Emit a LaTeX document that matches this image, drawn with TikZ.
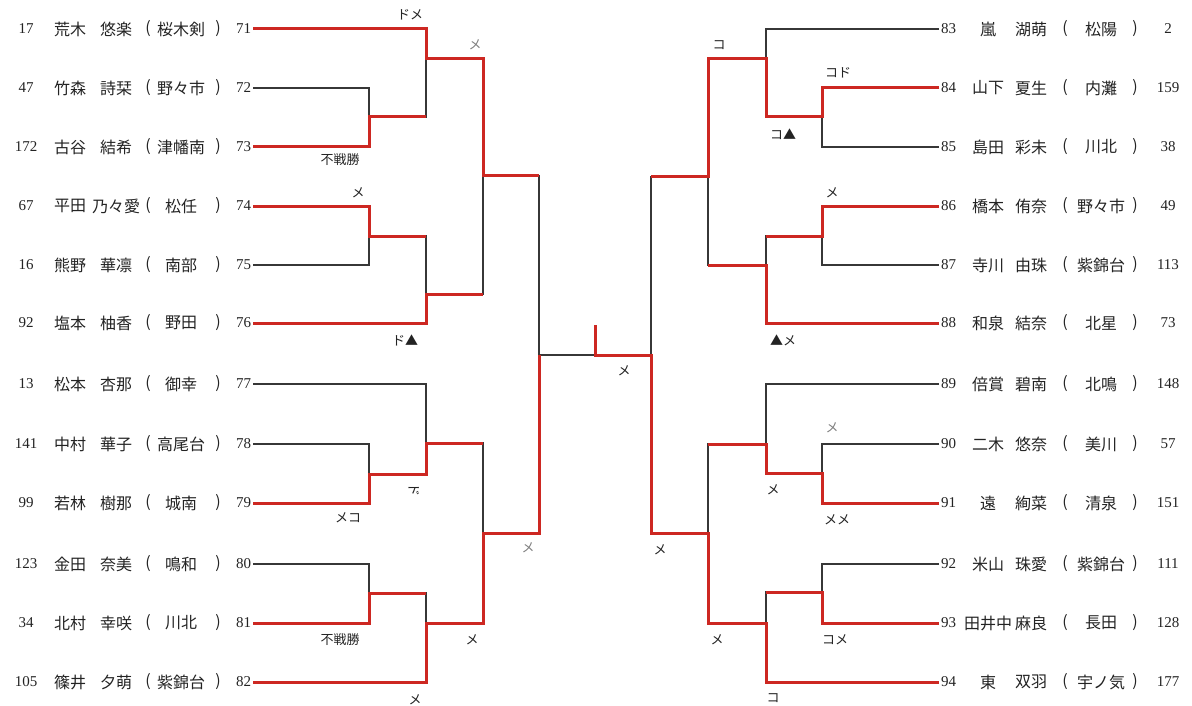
\documentclass[tikz,border=0pt]{standalone}
\usepackage{fontspec}
\setmainfont{Liberation Serif}
\newfontfamily\jp{Noto Sans CJK JP}
\usepackage{xcolor}
\usepackage{tikz}
\definecolor{figred}{RGB}{205,40,34}
\definecolor{figline}{RGB}{55,55,55}
\definecolor{figtext}{RGB}{35,35,35}
\tikzstyle{win} = [line width=3pt, draw=figred]
\tikzstyle{lose} = [line width=1.2pt, draw=figline]
\tikzstyle{entry} = [inner sep=0pt, text=figtext, font=\jp\fontsize{16}{16}\selectfont]
\tikzstyle{seednum} = [inner sep=0pt, text=figtext, font=\fontsize{15}{15}\selectfont]
\tikzstyle{posnum} = [seednum, outer sep=2pt]
\tikzstyle{score} = [inner sep=0pt, text=figtext, font=\jp\fontsize{13}{13}\selectfont]

\begin{document}
\begin{tikzpicture}[x=1pt, y=-1pt]
\useasboundingbox (0,0) rectangle (1192,706);

% left block
\foreach \y/\sd/\fm/\gv/\sc/\nm in {
  29/17/荒木/悠楽/桜木剣/71, 88/47/竹森/詩栞/野々市/72, 147/172/古谷/結希/津幡南/73,
  206/67/平田/乃々愛/松任/74, 265/16/熊野/華凛/南部/75, 323/92/塩本/柚香/野田/76,
  384/13/松本/杏那/御幸/77, 444/141/中村/華子/高尾台/78, 503/99/若林/樹那/城南/79,
  564/123/金田/奈美/鳴和/80, 623/34/北村/幸咲/川北/81, 682/105/篠井/夕萌/紫錦台/82}{
  \node[seednum] (s\nm) at (26,\y) {\sd};
  \node[entry] (f\nm) at (70,\y) {\fm};
  \node[entry] (g\nm) at (116,\y) {\gv};
  \node[entry] (o\nm) at (148,\y) {(};
  \node[entry] (h\nm) at (181,\y) {\sc};
  \node[entry] (c\nm) at (218,\y) {)};
  \node[posnum, anchor=east] (n\nm) at (253,\y) {\nm};
}

% right block
\foreach \y/\nm/\fm/\gv/\sc/\sd in {
  29/83/嵐/湖萌/松陽/2, 88/84/山下/夏生/内灘/159, 147/85/島田/彩未/川北/38,
  206/86/橋本/侑奈/野々市/49, 265/87/寺川/由珠/紫錦台/113, 323/88/和泉/結奈/北星/73,
  384/89/倍賞/碧南/北鳴/148, 444/90/二木/悠奈/美川/57, 503/91/遠/絢菜/清泉/151,
  564/92/米山/珠愛/紫錦台/111, 623/93/田井中/麻良/長田/128, 682/94/東/双羽/宇ノ気/177}{
  \node[posnum, anchor=west] (n\nm) at (939,\y) {\nm};
  \node[entry] (f\nm) at (988,\y) {\fm};
  \node[entry] (g\nm) at (1031,\y) {\gv};
  \node[entry] (o\nm) at (1065,\y) {(};
  \node[entry] (h\nm) at (1101,\y) {\sc};
  \node[entry] (c\nm) at (1135,\y) {)};
  \node[seednum] (s\nm) at (1168,\y) {\sd};
}

% bracket points
\coordinate (c1) at (369,117);
\coordinate (c2) at (369,236);
\coordinate (c3) at (369,474);
\coordinate (c4) at (369,593);
\coordinate (d1) at (426,59);
\coordinate (d2) at (426,294);
\coordinate (d3) at (426,443);
\coordinate (d4) at (426,623);
\coordinate (e1) at (483,176);
\coordinate (e2) at (483,533);
\coordinate (f1) at (539,355);
\coordinate (rc1) at (822,117);
\coordinate (rc2) at (822,236);
\coordinate (rc3) at (822,473);
\coordinate (rc4) at (822,592);
\coordinate (rd1) at (766,59);
\coordinate (rd2) at (766,265);
\coordinate (rd3) at (766,444);
\coordinate (rd4) at (766,623);
\coordinate (re1) at (708,177);
\coordinate (re2) at (708,533);
\coordinate (rf1) at (651,355);
\coordinate (g0) at (595,355);
\coordinate (top) at (595,325);

% all matches
\draw[lose] (n72.east) -| (c1) |- (n73.east);
\draw[lose] (n74.east) -| (c2) |- (n75.east);
\draw[lose] (n78.east) -| (c3) |- (n79.east);
\draw[lose] (n80.east) -| (c4) |- (n81.east);
\draw[lose] (n71.east) -| (d1) |- (c1);
\draw[lose] (c2) -| (d2) |- (n76.east);
\draw[lose] (n77.east) -| (d3) |- (c3);
\draw[lose] (c4) -| (d4) |- (n82.east);
\draw[lose] (d1) -| (e1) |- (d2);
\draw[lose] (d3) -| (e2) |- (d4);
\draw[lose] (e1) -| (f1) |- (e2);
\draw[lose] (f1) -- (g0);
\draw[lose] (n84.west) -| (rc1) |- (n85.west);
\draw[lose] (n86.west) -| (rc2) |- (n87.west);
\draw[lose] (n90.west) -| (rc3) |- (n91.west);
\draw[lose] (n92.west) -| (rc4) |- (n93.west);
\draw[lose] (n83.west) -| (rd1) |- (rc1);
\draw[lose] (rc2) -| (rd2) |- (n88.west);
\draw[lose] (n89.west) -| (rd3) |- (rc3);
\draw[lose] (rc4) -| (rd4) |- (n94.west);
\draw[lose] (rd1) -| (re1) |- (rd2);
\draw[lose] (rd3) -| (re2) |- (rd4);
\draw[lose] (re1) -| (rf1) |- (re2);

% winners
\draw[win] (n71.east) -| (d1) -| (e1) -- (e1 -| f1);
\draw[win] (n73.east) -| (c1) -- (c1 -| d1);
\draw[win] (n74.east) -| (c2) -- (c2 -| d2);
\draw[win] (n76.east) -| (d2) -- (d2 -| e1);
\draw[win] (n79.east) -| (c3) -| (d3) -- (d3 -| e2);
\draw[win] (n81.east) -| (c4) -- (c4 -| d4);
\draw[win] (n82.east) -| (d4) -| (e2) -| (f1);
\draw[win] (n84.west) -| (rc1) -| (rd1) -| (re1) -- (re1 -| rf1);
\draw[win] (n86.west) -| (rc2) -- (rc2 -| rd2);
\draw[win] (n88.west) -| (rd2) -- (rd2 -| re1);
\draw[win] (n91.west) -| (rc3) -| (rd3) -- (rd3 -| re2);
\draw[win] (n93.west) -| (rc4) -- (rc4 -| rd4);
\draw[win] (n94.west) -| (rd4) -| (re2) -| (rf1) -| (top);

% scores
\node[score] (sc-d1) at (410,15) {ドメ};
\node[score, gray] (sc-e1) at (475,45) {メ};
\node[score] (sc-c1) at (340,160) {不戦勝};
\node[score] (sc-c2) at (358,193) {メ};
\node[score] (sc-d2) at (405,340) {ド▲};
\node[score] (sc-c3) at (348,518) {メコ};
\node[score, rotate=-90] (sc-d3) at (414,490) {ド};
\node[score, gray] (sc-f1) at (528,548) {メ};
\node[score] (sc-c4) at (340,640) {不戦勝};
\node[score] (sc-e2) at (472,640) {メ};
\node[score] (sc-d4) at (415,700) {メ};
\node[score] (sc-g) at (624,371) {メ};
\node[score] (sc-re1) at (719,45) {コ};
\node[score] (sc-rc1) at (838,73) {コド};
\node[score] (sc-rd1) at (783,134) {コ▲};
\node[score] (sc-rc2) at (832,193) {メ};
\node[score] (sc-rd2) at (783,340) {▲メ};
\node[score, gray] (sc-rc3b) at (832,428) {メ};
\node[score] (sc-rd3) at (773,490) {メ};
\node[score] (sc-rc3) at (837,520) {メメ};
\node[score] (sc-rf1) at (660,550) {メ};
\node[score] (sc-re2) at (717,640) {メ};
\node[score] (sc-rc4) at (835,640) {コメ};
\node[score] (sc-rd4) at (773,698) {コ};
\end{tikzpicture}
\end{document}
